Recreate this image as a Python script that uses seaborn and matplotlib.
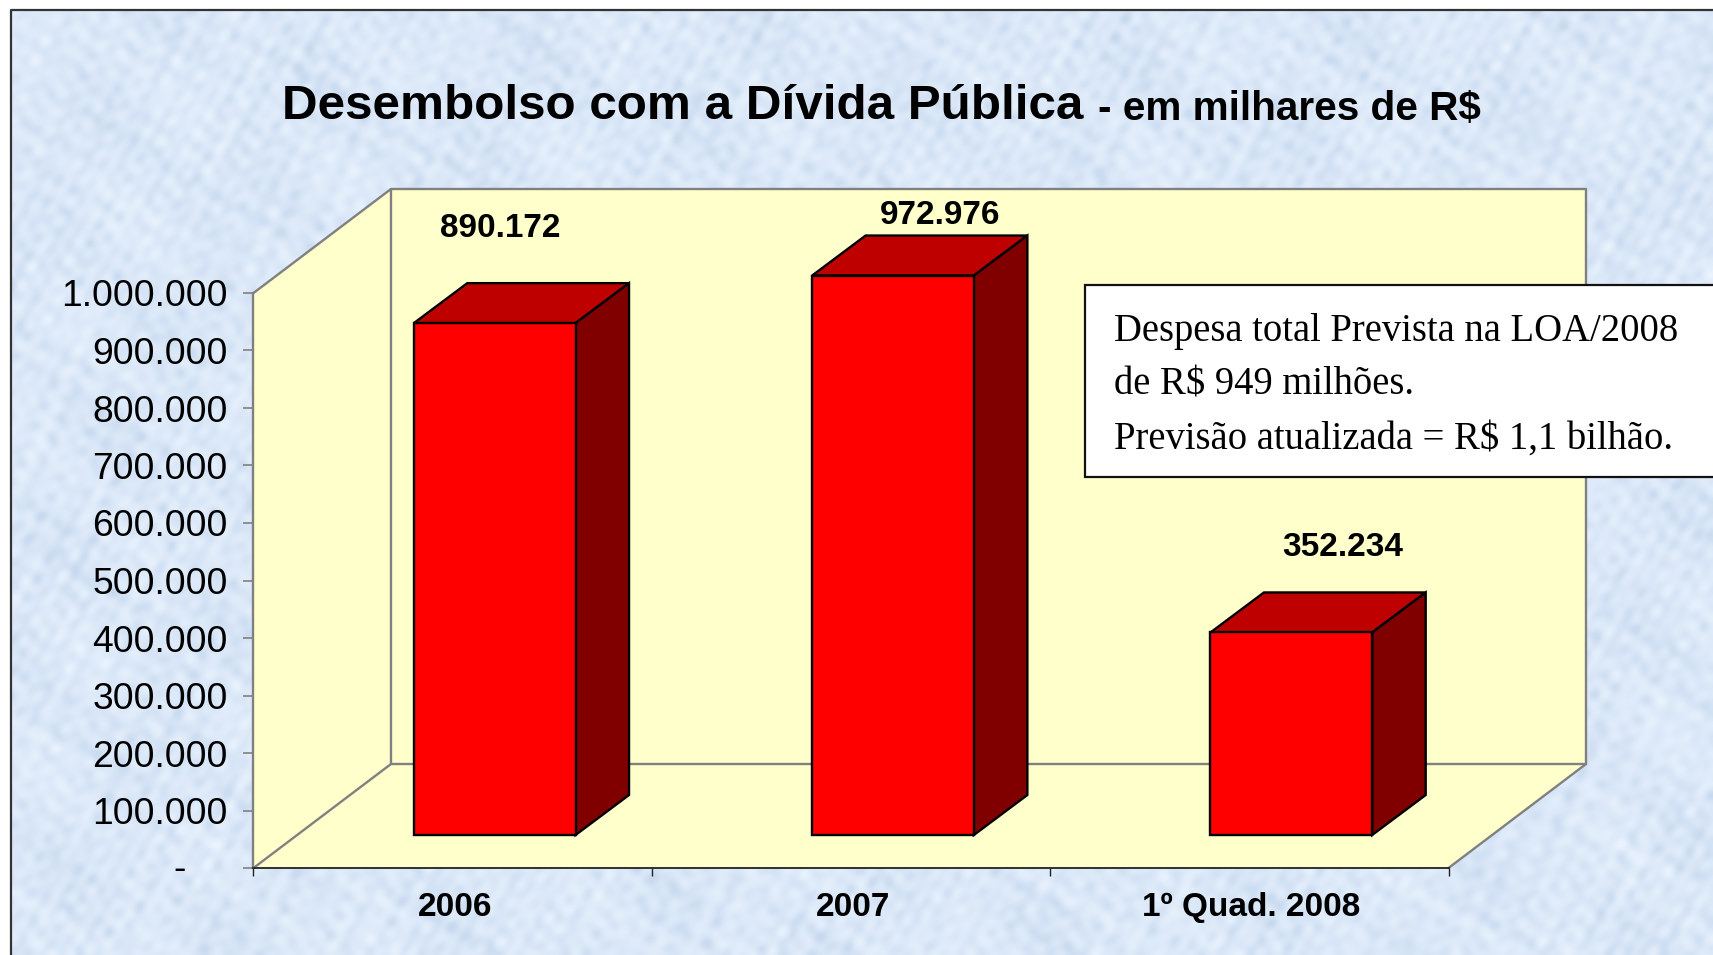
import numpy as np
import pandas as pd
import matplotlib
matplotlib.use("Agg")
import matplotlib.pyplot as plt
import seaborn as sns
from matplotlib.colors import LinearSegmentedColormap
from matplotlib.patches import Polygon, Rectangle
from matplotlib.transforms import Affine2D, IdentityTransform

periods = ["2006", "2007", "1º Quad. 2008"]
values = [890172, 972976, 352234]
value_labels = ["890.172", "972.976", "352.234"]
y_ticks = [0, 100000, 200000, 300000, 400000, 500000, 600000, 700000, 800000, 900000, 1000000]
y_labels = ["-", "100.000", "200.000", "300.000", "400.000", "500.000",
            "600.000", "700.000", "800.000", "900.000", "1.000.000"]
note = ("Despesa total Prevista na LOA/2008\n"
        "de R$ 949 milhões.\n"
        "Previsão atualizada = R$ 1,1 bilhão.")

# picture size and where the front plane of the chart sits (pixels, y down)
W, H = 1713, 955
LEFT, RIGHT, TOP, BOTTOM = 253.5, 1448.5, 293, 868
DEPTH_X, DEPTH_Y = 137.5, 104
BAR_DX, BAR_DY = 42, 33            # bars stand in from the front plane
SIDE_X, SIDE_Y = 53.5, 40          # depth of one bar
# where the value labels sit, in pixels (centre)
label_xy = [(500, 228.5), (940, 215.5), (1343, 547.5)]

sns.set_style("white")
plt.rcParams["font.family"] = ["Liberation Sans", "DejaVu Sans"]

fig = plt.figure(figsize=(W / 100, H / 100), dpi=100, facecolor="white")

# slide background, pixel coordinates
bg = fig.add_axes([0, 0, 1, 1], zorder=0)
bg.set_xlim(0, W)
bg.set_ylim(H, 0)
bg.axis("off")
yy, xx = np.mgrid[0:H:3, 0:W:3]
tex = np.zeros(xx.shape)
for fx, fy, ph in [(0.031, 0.017, 0.4), (-0.022, 0.041, 1.9), (0.053, -0.037, 3.1),
                   (0.171, 0.063, 0.7), (-0.089, 0.147, 2.3), (0.213, 0.109, 5.0),
                   (0.107, -0.179, 4.2), (-0.227, -0.101, 1.1), (0.137, -0.212, 2.8),
                   (0.311, 0.127, 0.2), (-0.143, 0.293, 3.7), (0.257, -0.233, 1.6),
                   (0.347, -0.091, 4.9), (0.079, 0.331, 2.1), (-0.283, 0.197, 5.6),
                   (0.383, 0.241, 0.9), (-0.367, -0.223, 3.3), (0.191, 0.401, 1.3)]:
    tex += np.sin(fx * xx + fy * yy + ph)
cmap = LinearSegmentedColormap.from_list("paper", ["#C6D8EE", "#DBE8F8", "#EBF4FE"])
bg.imshow(tex, cmap=cmap, vmin=-10, vmax=10, extent=(11, W, H, 10), interpolation="bicubic", aspect="auto", zorder=0)
bg.set_xlim(0, W)
bg.set_ylim(H, 0)
bg.plot([11, 11, W], [H, 10, 10], color="#333333", lw=1.6, zorder=1)

# walls and floor
wall = "#FFFFCC"
grid = "#808080"
bk_l, bk_r = LEFT + DEPTH_X, RIGHT + DEPTH_X
bk_t, bk_b = TOP - DEPTH_Y, BOTTOM - DEPTH_Y
bg.add_patch(Polygon([(LEFT, TOP), (bk_l, bk_t), (bk_r, bk_t), (bk_r, bk_b), (RIGHT, BOTTOM), (LEFT, BOTTOM)],
                     facecolor=wall, edgecolor="none", zorder=2))
bg.plot([LEFT, bk_l, bk_r, bk_r, bk_l, bk_l], [TOP, bk_t, bk_t, bk_b, bk_b, bk_t], color=grid, lw=1.7, zorder=3)
bg.plot([LEFT, bk_l], [BOTTOM, bk_b], color=grid, lw=1.7, zorder=3)
bg.plot([RIGHT, bk_r], [BOTTOM, bk_b], color=grid, lw=1.7, zorder=3)

bg.text(282, 119, "Desembolso com a Dívida Pública", fontsize=35.6, fontweight="bold", va="baseline", ha="left", color="black")
bg.text(1098, 120, "- em milhares de R$", fontsize=29.2, fontweight="bold", va="baseline", ha="left", color="black")

# chart on the front plane
ax = fig.add_axes([LEFT / W, (H - BOTTOM) / H, (RIGHT - LEFT) / W, (BOTTOM - TOP) / H], zorder=1)
ax.patch.set_alpha(0)
df = pd.DataFrame({"periodo": periods, "valor": values})
sns.barplot(data=df, x="periodo", y="valor", color="#FF0000", saturation=1, width=0.406,
            edgecolor="black", linewidth=1.7, ax=ax, zorder=5)
ax.set_xlim(-0.5, 2.5)
ax.set_ylim(0, 1000000)
ax.set_xlabel("")
ax.set_ylabel("")
ax.set_xticks([-0.5, 0.5, 1.5, 2.5], labels=[])
ax.set_xticks([0, 1, 2], labels=periods, minor=True)
ax.set_yticks(y_ticks, labels=y_labels)
ax.tick_params(axis="x", which="major", length=6, width=1, color="#222222", bottom=True)
ax.tick_params(axis="x", which="minor", length=0, pad=17, labelsize=24, labelcolor="black")
ax.tick_params(axis="y", length=7.5, width=1.2, color=grid, left=True, pad=11, labelsize=26.8, labelcolor="black")
for lab in ax.get_xticklabels(minor=True):
    lab.set_fontweight("bold")
    lab.set_transform(lab.get_transform() + Affine2D().translate(2, 0))
# the zero label sits further left, as in an accounting format
zero = ax.get_yticklabels()[0]
zero.set_transform(zero.get_transform() + Affine2D().translate(-42, 3))
sns.despine(ax=ax, top=True, right=True)
ax.spines["left"].set_color(grid)
ax.spines["left"].set_linewidth(1.7)
ax.spines["bottom"].set_color("#222222")
ax.spines["bottom"].set_linewidth(1.3)

# push bars back from the front plane and give them top and side faces
fig.canvas.draw()
for bar in list(ax.patches):
    bar.set_transform(ax.transData + Affine2D().translate(BAR_DX, BAR_DY))
    bar.set_clip_on(False)
    x0, y0 = ax.transData.transform((bar.get_x(), 0)) + (BAR_DX, BAR_DY)
    x1, y1 = ax.transData.transform((bar.get_x() + bar.get_width(), bar.get_height())) + (BAR_DX, BAR_DY)
    top = [(x0, y1), (x1, y1), (x1 + SIDE_X, y1 + SIDE_Y), (x0 + SIDE_X, y1 + SIDE_Y)]
    side = [(x1, y0), (x1, y1), (x1 + SIDE_X, y1 + SIDE_Y), (x1 + SIDE_X, y0 + SIDE_Y)]
    for pts, col in [(top, "#BF0000"), (side, "#800000")]:
        ax.add_patch(Polygon(pts, closed=True, facecolor=col, edgecolor="black", linewidth=1.7,
                             transform=IdentityTransform(), clip_on=False, zorder=4))

# texts over everything, pixel coordinates again
fg = fig.add_axes([0, 0, 1, 1], zorder=2)
fg.set_xlim(0, W)
fg.set_ylim(H, 0)
fg.axis("off")
for txt, (tx, ty) in zip(value_labels, label_xy):
    fg.text(tx, ty, txt, fontsize=24, fontweight="bold", ha="center", va="center", color="black")

fg.add_patch(Rectangle((1085, 285), W - 1085 + 10, 192, facecolor="white", edgecolor="#111111", linewidth=1.6))
fg.text(1114, 385, note, family=["Liberation Serif", "DejaVu Serif"], fontsize=27.8, ha="left", va="center",
        linespacing=1.6, color="black")

fig.savefig("out.png", dpi=100)
